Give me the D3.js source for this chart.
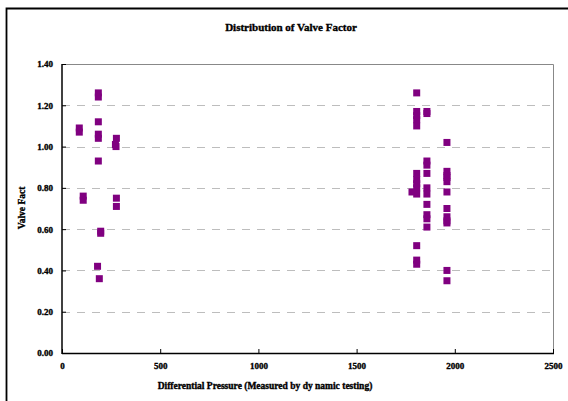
<!DOCTYPE html>
<html><head><meta charset="utf-8">
<script src="https://cdn.jsdelivr.net/npm/d3@7"></script>
<style>body{margin:0;background:#fff}svg{display:block}text{font-family:"Liberation Serif","Times New Roman",serif;font-weight:bold;stroke:#000;stroke-width:0.35px}</style>
</head><body>
<script>
const title = "Distribution of Valve Factor";
const xTitle = "Differential Pressure (Measured by dy namic testing)";
const yTitle = "Valve Fact";
const xTicks = [0, 500, 1000, 1500, 2000, 2500];
const yTicks = [0, 0.2, 0.4, 0.6, 0.8, 1.0, 1.2, 1.4];
const pressure = [
  88, 88, 108, 108, 185, 185, 185, 185, 185, 185, 197, 197, 181, 190, 272, 275, 277, 277, 277,
  1806, 1806, 1806, 1806, 1806, 1806, 1806, 1806, 1806, 1782, 1806, 1806, 1806, 1806,
  1858, 1858, 1858, 1858, 1858, 1858, 1858, 1858, 1858, 1858, 1858,
  1960, 1960, 1960, 1960, 1960, 1960, 1960, 1960, 1960, 1960, 1960, 1960
];
const valveFactor = [
  1.09, 1.07, 0.76, 0.74, 1.26, 1.24, 1.12, 1.06, 1.04, 0.93, 0.59, 0.58, 0.42, 0.36, 1.01, 1.00, 1.04, 0.75, 0.71,
  1.26, 1.17, 1.15, 1.13, 1.10, 0.87, 0.84, 0.82, 0.80, 0.78, 0.77, 0.52, 0.45, 0.43,
  1.17, 1.16, 0.93, 0.91, 0.87, 0.80, 0.77, 0.72, 0.67, 0.65, 0.61,
  1.02, 0.88, 0.85, 0.83, 0.78, 0.70, 0.66, 0.64, 0.63, 0.40, 0.35, 0.86
];

const W = 568, H = 401;
const svg = d3.select("body").append("svg").attr("width", W).attr("height", H);
const L = 62, R = 553, T = 64, B = 353;
const x = d3.scaleLinear().domain([0, 2500]).range([L, R]);
const y = d3.scaleLinear().domain([0, 1.4]).range([B, T]);

// outer frame (clipped at right/bottom)
svg.append("path").attr("d", `M6.5,${H + 5}V8.5H${W + 5}`).attr("fill", "none").attr("stroke", "#000").attr("stroke-width", 1.8);

// gridlines
svg.append("g").selectAll("line").data(yTicks.filter(v => v > 0 && v < 1.4)).join("line")
  .attr("x1", L).attr("x2", R).attr("y1", d => Math.round(y(d)) + 0.5).attr("y2", d => Math.round(y(d)) + 0.5)
  .attr("stroke", "#bdbdbd").attr("stroke-width", 1).attr("stroke-dasharray", "8,7");

// top/right border
svg.append("path").attr("d", `M${L},${T + 0.5}H${R + 0.5}V${B}`).attr("fill", "none").attr("stroke", "#888").attr("stroke-width", 1);

// axes
const xAxis = d3.axisBottom(x).tickValues(xTicks).tickSize(-4).tickPadding(10).tickFormat(d3.format("d"));
const gx = svg.append("g").attr("transform", `translate(0,${B})`).call(xAxis);
gx.select(".domain").attr("stroke-width", 1.5).attr("d", `M${L},0.5H${R + 1}`);
gx.selectAll("text").attr("font-size", 9).attr("fill", "#000").attr("font-family", null);

const yAxis = d3.axisLeft(y).tickValues(yTicks).tickSize(-4).tickPadding(9).tickFormat(d3.format(".2f"));
const gy = svg.append("g").attr("transform", `translate(${L},0)`).call(yAxis);
gy.select(".domain").attr("stroke-width", 1.5).attr("d", `M0,${B + 1}V${T}`);
gy.selectAll("text").attr("font-size", 9).attr("fill", "#000").attr("font-family", null);

// points
const s = 7;
svg.append("g").selectAll("rect").data(pressure.map((p, i) => [p, valveFactor[i]])).join("rect")
  .attr("x", d => x(d[0]) - s / 2).attr("y", d => y(d[1]) - s / 2)
  .attr("width", s).attr("height", s).attr("fill", "#800080");

// titles
svg.append("text").attr("x", 291).attr("y", 31).attr("text-anchor", "middle").attr("font-size", 11).text(title);
svg.append("text").attr("x", 265).attr("y", 389).attr("text-anchor", "middle").attr("font-size", 9.5).text(xTitle);
svg.append("text").attr("transform", "translate(25,208) rotate(-90)").attr("text-anchor", "middle").attr("font-size", 9.5).text(yTitle);
</script>
</body></html>
